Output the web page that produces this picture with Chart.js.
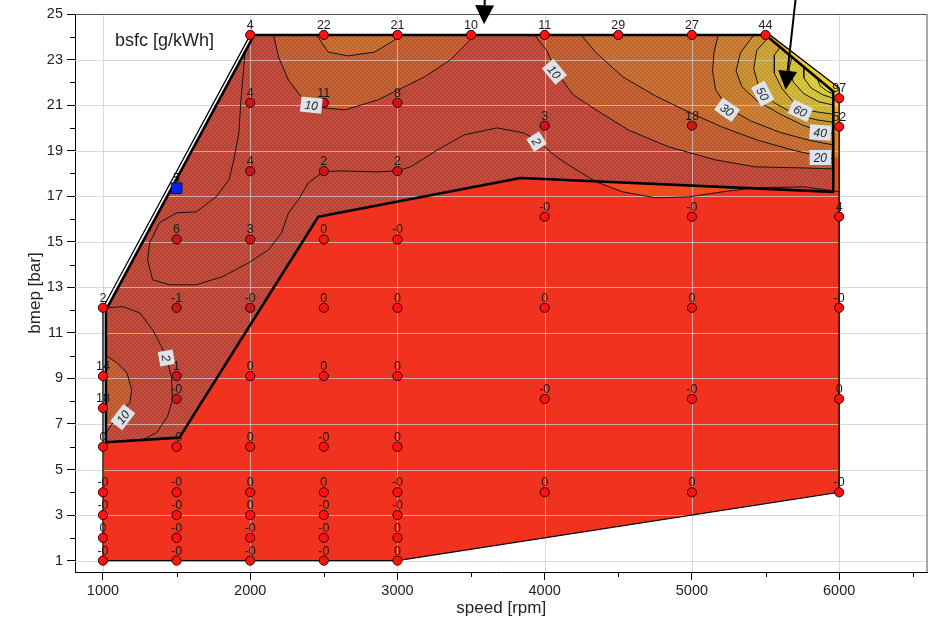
<!DOCTYPE html>
<html>
<head>
<meta charset="utf-8">
<script src="https://cdn.jsdelivr.net/npm/chart.js@4.4.1/dist/chart.umd.min.js"></script>
<style>
  html, body { margin: 0; padding: 0; background: #fff; }
  canvas { display: block; }
</style>
</head>
<body>
<canvas id="map" width="936" height="624"></canvas>
<script>
// ===== measured points: speed [rpm], bmep [bar], printed bsfc delta =====
const ptSpeed = [
  2000, 2500, 3000, 3500, 4000, 4500, 5000, 5500,
  6000, 6000,
  2000, 2500, 3000,
  4000, 5000,
  2000, 2500, 3000,
  1500, 2000, 2500, 3000,
  4000, 5000, 6000,
  1000, 1500, 2000, 2500, 3000, 4000, 5000, 6000,
  1000, 1500, 2000, 2500, 3000,
  1500, 4000, 5000, 6000,
  1000,
  1000, 1500, 2000, 2500, 3000,
  1000, 1500, 2000, 2500, 3000, 4000, 5000, 6000,
  1000, 1500, 2000, 2500, 3000,
  1000, 1500, 2000, 2500, 3000,
  1000, 1500, 2000, 2500, 3000
];
const ptBmep = [
  24.08, 24.08, 24.08, 24.08, 24.08, 24.08, 24.08, 24.08,
  21.3, 20.05,
  21.1, 21.1, 21.1,
  20.1, 20.1,
  18.1, 18.1, 18.1,
  15.1, 15.1, 15.1, 15.1,
  16.1, 16.1, 16.1,
  12.1, 12.1, 12.1, 12.1, 12.1, 12.1, 12.1, 12.1,
  9.1, 9.1, 9.1, 9.1, 9.1,
  8.1, 8.1, 8.1, 8.1,
  7.7,
  6.0, 6.0, 6.0, 6.0, 6.0,
  4.0, 4.0, 4.0, 4.0, 4.0, 4.0, 4.0, 4.0,
  3.0, 3.0, 3.0, 3.0, 3.0,
  2.0, 2.0, 2.0, 2.0, 2.0,
  1.0, 1.0, 1.0, 1.0, 1.0
];
const ptText = [
  "4", "22", "21", "10", "11", "29", "27", "44",
  "97", "52",
  "4", "11", "8",
  "3", "18",
  "4", "2", "2",
  "6", "3", "0", "-0",
  "-0", "-0", "4",
  "2", "-1", "-0", "0", "0", "0", "0", "-0",
  "14", "1", "0", "0", "0",
  "-0", "-0", "-0", "0",
  "18",
  "0", "-0", "0", "-0", "0",
  "-0", "-0", "0", "0", "-0", "0", "0", "-0",
  "-0", "-0", "0", "-0", "-0",
  "0", "-0", "-0", "-0", "0",
  "-0", "-0", "-0", "-0", "0"
];
// selected point (blue square)
const selSpeed = [1500];
const selBmep = [17.35];
const selText = ["5"];

// ===== outlines =====
const envX = [1000, 3000, 6000, 6000, 5530, 2000, 1000, 1000];
const envY = [1, 1, 4, 21.75, 24.08, 24.08, 12.1, 1];
const redX = [1000, 3000, 6000, 6000, 5530, 3000, 3000, 2462, 1519, 1000];
const redY = [1, 1, 4, 21.75, 24.08, 24.08, 17, 16.1, 6.4, 6.2];
const mapX = [2027, 5500, 5960, 5960, 3837, 2462, 1519, 1020, 1020, 2027];
const mapY = [24.08, 24.08, 21.6, 17.19, 17.8, 16.1, 6.4, 6.2, 12.0, 24.08];

// envelope colour bands (outside the measured map)
const env2X = [4214, 4349, 4531, 4753, 4976, 5205, 5427, 5764, 6000, 6000, 5530, 4214];
const env2Y = [18.16, 17.63, 17.19, 16.93, 16.97, 17.19, 17.37, 17.41, 17.2, 21.75, 24.08, 24.08];
const env20X = [5600, 6000, 6000, 5530, 5300];
const env20Y = [18.9, 18.7, 21.75, 24.08, 24.08];
const env40X = [5800, 6000, 6000, 5530, 5470];
const env40Y = [19.95, 19.8, 21.75, 24.08, 24.08];
const env70X = [5900, 6000, 6000, 5650, 5600];
const env70Y = [21.0, 20.95, 21.75, 23.49, 23.3];

// ===== contour lines =====
const c10aX = [2159, 2193, 2260, 2348, 2496, 2644, 2867, 3183, 3358, 3527];
const c10aY = [24.08, 23.1, 22.1, 21.36, 20.88, 20.79, 21.23, 22.24, 22.98, 24.08];
const c20aX = [2449, 2530, 2664, 2846, 2981, 2995];
const c20aY = [24.08, 23.33, 23.16, 23.33, 23.86, 24.08];
const c10cX = [1020, 1094, 1162, 1195, 1182, 1115, 1020];
const c10cY = [10.0, 9.69, 9.25, 8.5, 7.93, 7.49, 6.6];
const c2aX = [1965, 1937, 1923, 1889, 1856, 1768, 1633, 1499, 1384, 1317, 1303, 1337, 1451, 1633, 1809,
  1991, 2125, 2213, 2260, 2327, 2395, 2496, 2597, 2867, 2995, 3089, 3271, 3453, 3675, 3857, 3945,
  4079, 4214, 4349, 4531, 4753, 4976, 5205, 5427, 5764, 6000];
const c2aY = [23.3, 21.23, 19.78, 18.6, 17.72, 16.97, 16.31, 16.27, 15.83, 14.95, 14.21, 13.33, 13.11, 13.11, 13.46,
  14.08, 14.65, 15.39, 16.27, 16.84, 17.59, 18.07, 18.11, 18.07, 18.11, 18.29, 19.03, 19.69, 20.0, 19.78, 19.47,
  18.73, 18.16, 17.63, 17.19, 16.93, 16.97, 17.19, 17.37, 17.41, 17.2];
const c2bX = [1030, 1135, 1249, 1337, 1398, 1431, 1465, 1472, 1438, 1364, 1270];
const c2bY = [12.1, 12.15, 11.88, 11.14, 10.39, 9.91, 9.07, 8.06, 7.32, 6.62, 6.3];
const c10bX = [3931, 4012, 4079, 4194, 4349, 4571, 4841, 5158, 5427, 5764, 5960];
const c10bY = [24.08, 23.42, 22.46, 21.45, 20.79, 19.9, 19.17, 18.6, 18.29, 18.24, 18.2];
const c20bX = [4248, 4349, 4531, 4753, 4976, 5200, 5450, 5700, 5872, 5960];
const c20bY = [24.08, 23.3, 22.24, 21.4, 20.7, 20.05, 19.45, 19.0, 18.75, 18.65];
const c30X = [5178, 5150, 5140, 5160, 5239, 5400, 5600, 5800, 5960];
const c30Y = [24.08, 23.3, 22.5, 21.7, 20.9, 20.3, 19.8, 19.45, 19.25];
const c40X = [5420, 5330, 5300, 5340, 5440, 5600, 5760, 5872, 5960];
const c40Y = [24.08, 23.3, 22.5, 21.8, 21.2, 20.6, 20.1, 19.85, 19.75];
const c50X = [5520, 5440, 5420, 5450, 5481, 5560, 5700, 5850, 5960];
const c50Y = [23.97, 23.4, 22.6, 21.9, 21.5, 21.1, 20.6, 20.35, 20.25];
const c60X = [5600, 5560, 5560, 5610, 5680, 5737, 5850, 5960];
const c60Y = [23.54, 23.2, 22.4, 21.75, 21.2, 20.85, 20.7, 20.6];
const c70X = [5680, 5660, 5690, 5760, 5860, 5960];
const c70Y = [23.11, 22.6, 22.0, 21.5, 21.15, 21.0];
const c80X = [5760, 5760, 5810, 5890, 5960];
const c80Y = [22.68, 22.2, 21.75, 21.45, 21.3];
const c90X = [5850, 5870, 5920, 5960];
const c90Y = [22.19, 21.85, 21.6, 21.5];

// contour labels
const labText = ["10", "10", "30", "50", "60", "40", "20", "2", "2", "10"];
const labX = [2415, 4066, 5239, 5481, 5737, 5872, 5872, 3945, 1431, 1135];
const labY = [21.0, 22.46, 20.8, 21.5, 20.75, 19.8, 18.7, 19.4, 9.9, 7.3];
const labAngle = [6, 50, 35, 62, 25, 4, 0, 58, 80, -52];

// arrows (data coords, tail -> tip)
const arrowFromX = [3595, 5710];
const arrowFromY = [26.0, 26.0];
const arrowToX = [3588, 5636];
const arrowToY = [24.55, 21.67];

// axes
const xTicks = [1000, 2000, 3000, 4000, 5000, 6000];
const xMinor = [1500, 2500, 3500, 4500, 5500, 6500];
const yTicks = [1, 3, 5, 7, 9, 11, 13, 15, 17, 19, 21, 23, 25];
const yMinor = [2, 4, 6, 8, 10, 12, 14, 16, 18, 20, 22, 24];

const FONT = '"Liberation Sans", Arial, Helvetica, sans-serif';
Chart.defaults.font.family = FONT;

function pts(xs, ys) { return xs.map((v, i) => ({ x: v, y: ys[i] })); }

// fine checker texture like the original map fill
function checker(a, b) {
  const c = document.createElement("canvas");
  c.width = 4; c.height = 4;
  const g = c.getContext("2d");
  g.fillStyle = a; g.fillRect(0, 0, 4, 4);
  g.fillStyle = b; g.fillRect(0, 0, 2, 2); g.fillRect(2, 2, 2, 2);
  return g.createPattern(c, "repeat");
}

const layers = [];
function area(xs, ys, bg) {
  layers.push({ data: pts(xs, ys), fill: "shape", backgroundColor: bg, borderWidth: 0, pointRadius: 0 });
}
function line(xs, ys, extra) {
  layers.push(Object.assign({ data: pts(xs, ys), fill: false, borderColor: "#151515", borderWidth: 1, pointRadius: 0 }, extra || {}));
}
// close a top-right contour along the map corner
const cornerX = [mapX[2], mapX[1]];
const cornerY = [mapY[2], mapY[1]];
function bandTR(xs, ys, bg) { area(xs.concat(cornerX), ys.concat(cornerY), bg); }

// ----- fills, bottom to top -----
area(redX, redY, "#f0321e");
area(env2X, env2Y, "#f24b1d");
area(env20X, env20Y, "#f27c22");
area(env40X, env40Y, "#f2a624");
area(env70X, env70Y, "#eccb2e");
area(mapX, mapY, checker("#c54f38", "#b5423b"));
area(c10aX, c10aY, checker("#c9662f", "#b95636"));
area(c20aX, c20aY, checker("#cc7430", "#bc6434"));
area(c10cX, c10cY, checker("#c9662f", "#b95636"));
bandTR(c10bX, c10bY, checker("#c9662f", "#b95636"));
bandTR(c20bX, c20bY, checker("#cc7430", "#bc6434"));
bandTR(c30X, c30Y, checker("#ce8430", "#be7434"));
bandTR(c40X, c40Y, checker("#d09631", "#c08635"));
bandTR(c50X, c50Y, checker("#d2a934", "#c29a38"));
bandTR(c60X, c60Y, checker("#d6bc37", "#c6ac3b"));
bandTR(c70X, c70Y, checker("#daca3a", "#caba3e"));
bandTR(c80X, c80Y, checker("#dfd43c", "#cfc440"));
bandTR(c90X, c90Y, checker("#e3dc40", "#d3cc44"));

// ----- contour lines -----
line(c10aX, c10aY, { gridBefore: true });
line(c20aX, c20aY);
line(c2aX, c2aY);
line(c2bX, c2bY);
line(c10cX, c10cY);
line(c10bX, c10bY);
line(c20bX, c20bY);
line(c30X, c30Y);
line(c40X, c40Y);
line(c50X, c50Y);
line(c60X, c60Y);
line(c70X, c70Y);
line(c80X, c80Y);
line(c90X, c90Y);

// ----- outlines -----
line(envX, envY, { borderColor: "#000", borderWidth: 1.3 });
line(mapX, mapY, { borderColor: "#000", borderWidth: 2.6, borderJoinStyle: "round" });

// point colour: darker where the map texture sits over the point
function insideMap(sx, b) {
  let inside = false;
  for (let i = 0, j = mapX.length - 1; i < mapX.length; j = i++) {
    if ((mapY[i] > b) !== (mapY[j] > b) &&
        sx < (mapX[j] - mapX[i]) * (b - mapY[i]) / (mapY[j] - mapY[i]) + mapX[i]) inside = !inside;
  }
  return inside;
}
const ptFill = ptSpeed.map((s, i) => (ptBmep[i] < 24 && insideMap(s, ptBmep[i])) ? "#cc161c" : "#ff1212");

layers.push({
  data: pts(ptSpeed, ptBmep), showLine: false, fill: false,
  pointRadius: 4.6, pointBackgroundColor: ptFill, pointBorderColor: "#2a0000", pointBorderWidth: 1
});
layers.push({
  data: pts(selSpeed, selBmep), showLine: false, fill: false, pointStyle: "rect",
  pointRadius: 7.5, pointBackgroundColor: "#0b22e6", pointBorderColor: "#001060", pointBorderWidth: 1
});

// lower order is drawn on top
layers.forEach((d, i) => { d.order = layers.length - i; });

function drawArrow(ctx, x0, y0, x1, y1) {
  const ang = Math.atan2(y1 - y0, x1 - x0), L = 19, W = 9.5;
  const bx = x1 - L * Math.cos(ang), by = y1 - L * Math.sin(ang);
  ctx.beginPath(); ctx.moveTo(x0, y0); ctx.lineTo(bx, by); ctx.lineWidth = 2; ctx.stroke();
  ctx.beginPath(); ctx.moveTo(x1, y1);
  ctx.lineTo(bx + W * Math.sin(ang), by - W * Math.cos(ang));
  ctx.lineTo(bx - W * Math.sin(ang), by + W * Math.cos(ang));
  ctx.closePath(); ctx.fill();
}

const mapDecor = {
  id: "mapDecor",
  beforeDatasetDraw(chart, args) {
    if (!chart.data.datasets[args.index].gridBefore) return;
    const { ctx, chartArea: a, scales: { x, y } } = chart;
    ctx.save();
    ctx.strokeStyle = "rgba(205,205,205,0.75)";
    ctx.lineWidth = 1;
    ctx.beginPath();
    xTicks.forEach(v => { const p = Math.round(x.getPixelForValue(v)) + 0.5; ctx.moveTo(p, a.top); ctx.lineTo(p, a.bottom); });
    yTicks.forEach(v => { const p = Math.round(y.getPixelForValue(v)) + 0.5; ctx.moveTo(a.left, p); ctx.lineTo(a.right, p); });
    ctx.stroke();
    ctx.restore();
  },
  afterDatasetsDraw(chart) {
    const { ctx, scales: { x, y } } = chart;
    ctx.save();
    // contour labels
    ctx.font = "italic 12px " + FONT;
    ctx.textAlign = "center";
    ctx.textBaseline = "middle";
    labText.forEach((t, i) => {
      const w = ctx.measureText(t).width + 8, h = 15;
      ctx.save();
      ctx.translate(x.getPixelForValue(labX[i]), y.getPixelForValue(labY[i]));
      ctx.rotate(labAngle[i] * Math.PI / 180);
      ctx.fillStyle = "#dce3ea";
      ctx.fillRect(-w / 2, -h / 2, w, h);
      ctx.fillStyle = "#262626";
      ctx.fillText(t, 0, 1);
      ctx.restore();
    });
    // point values
    ctx.font = "12.5px " + FONT;
    ctx.fillStyle = "#1a1a1a";
    ctx.textBaseline = "alphabetic";
    ptText.forEach((t, i) => ctx.fillText(t, x.getPixelForValue(ptSpeed[i]), y.getPixelForValue(ptBmep[i]) - 6));
    selText.forEach((t, i) => ctx.fillText(t, x.getPixelForValue(selSpeed[i]), y.getPixelForValue(selBmep[i]) - 6));
    ctx.restore();
  },
  afterDraw(chart) {
    const { ctx, chartArea: a, scales: { x, y } } = chart;
    ctx.save();
    // frame top / right
    ctx.strokeStyle = "#555";
    ctx.lineWidth = 1;
    ctx.beginPath();
    ctx.moveTo(a.left, a.top + 0.5); ctx.lineTo(a.right - 0.5, a.top + 0.5); ctx.lineTo(a.right - 0.5, a.bottom);
    ctx.stroke();
    // minor ticks
    ctx.strokeStyle = "#000";
    ctx.beginPath();
    xMinor.forEach(v => { const p = Math.round(x.getPixelForValue(v)) + 0.5; ctx.moveTo(p, a.bottom); ctx.lineTo(p, a.bottom + 5); });
    yMinor.forEach(v => { const p = Math.round(y.getPixelForValue(v)) + 0.5; ctx.moveTo(a.left, p); ctx.lineTo(a.left - 5, p); });
    ctx.stroke();
    // quantity label
    ctx.fillStyle = "#1e1e1e";
    ctx.font = "18px " + FONT;
    ctx.textAlign = "left";
    ctx.fillText("bsfc [g/kWh]", a.left + 40, a.top + 32);
    // arrows
    ctx.fillStyle = "#000";
    ctx.strokeStyle = "#000";
    arrowToX.forEach((v, i) => drawArrow(ctx,
      x.getPixelForValue(arrowFromX[i]), y.getPixelForValue(arrowFromY[i]),
      x.getPixelForValue(v), y.getPixelForValue(arrowToY[i])));
    ctx.restore();
  }
};

const tickFont = { size: 14.5, family: FONT };
const titleFont = { size: 17, family: FONT };

new Chart(document.getElementById("map"), {
  type: "line",
  data: { datasets: layers },
  options: {
    responsive: false,
    animation: false,
    events: [],
    devicePixelRatio: 1,
    layout: { padding: { left: 0, top: 14, right: 3, bottom: 0 } },
    plugins: { legend: { display: false }, tooltip: { enabled: false } },
    scales: {
      x: {
        type: "linear", min: 810, max: 6600,
        afterBuildTicks: s => { s.ticks = xTicks.map(v => ({ value: v })); },
        afterFit: s => { s.height = 52; },
        ticks: { font: tickFont, color: "#222", padding: 2, maxRotation: 0, autoSkip: false, callback: v => String(v) },
        grid: { drawOnChartArea: false, tickLength: 8, tickColor: "#000", tickWidth: 1 },
        border: { color: "#000", width: 1 },
        title: { display: true, text: "speed [rpm]", font: titleFont, color: "#222", padding: { top: 0, bottom: 5 } }
      },
      y: {
        type: "linear", min: 0.5, max: 25,
        afterBuildTicks: s => { s.ticks = yTicks.map(v => ({ value: v })); },
        afterFit: s => { s.width = 75; },
        ticks: { font: tickFont, color: "#222", padding: 4, autoSkip: false, callback: v => String(v) },
        grid: { drawOnChartArea: false, tickLength: 8, tickColor: "#000", tickWidth: 1 },
        border: { color: "#000", width: 1 },
        title: { display: true, text: "bmep [bar]", font: titleFont, color: "#222", padding: { top: 25, bottom: 0 } }
      }
    }
  },
  plugins: [mapDecor]
});
</script>
</body>
</html>
